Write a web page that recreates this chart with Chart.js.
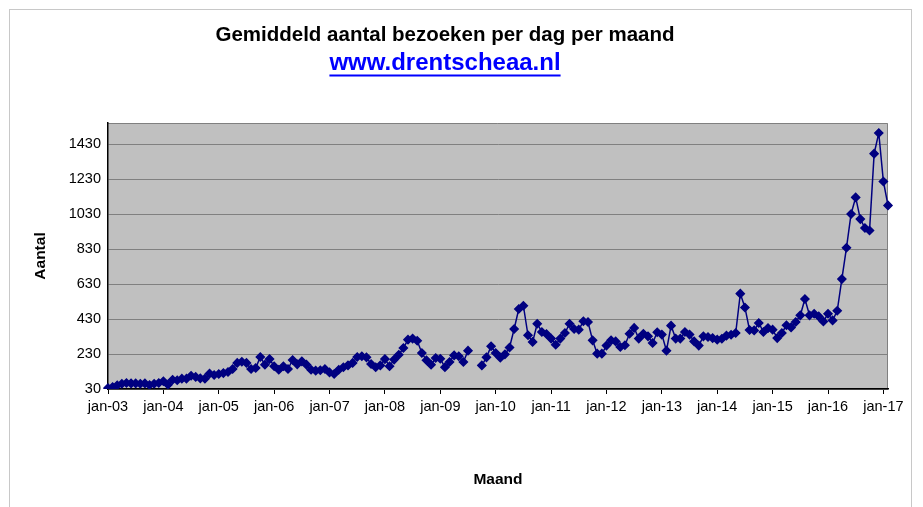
<!doctype html>
<html lang="nl">
<head>
<meta charset="utf-8">
<script src="https://cdn.jsdelivr.net/npm/chart.js"></script>
<style>
  html, body { margin: 0; padding: 0; background: #fff; }
</style>
</head>
<body>
<canvas id="myChart" width="923" height="507"></canvas>

<script>
  // data (monthly averages, jan-03 .. feb-17)
  const monthNames = ['jan', 'feb', 'mrt', 'apr', 'mei', 'jun', 'jul', 'aug', 'sep', 'okt', 'nov', 'dec'];
  const years = ['03', '04', '05', '06', '07', '08', '09', '10', '11', '12', '13', '14', '15', '16', '17'];
  const visits = [
    35, 41, 51, 60, 64, 62, 62, 60, 62, 53, 60, 64,
    74, 55, 83, 80, 89, 89, 106, 99, 91, 89, 118, 110,
    116, 121, 127, 144, 179, 186, 179, 144, 150, 213, 169, 201,
    160, 140, 160, 144, 196, 171, 188, 169, 140, 135, 137, 144,
    125, 116, 140, 154, 165, 179, 213, 217, 211, 173, 154, 165,
    201, 160, 198, 226, 264, 312, 318, 306, 236, 194, 169, 207,
    203, 154, 184, 222, 217, 184, 249, null, null, 165, 211, 274,
    236, 209, 228, 267, 373, 487, 506, 337, 299, 403, 356, 344,
    318, 283, 318, 350, 403, 373, 369, 417, 413, 308, 232, 232,
    278, 308, 302, 270, 280, 346, 379, 318, 346, 331, 293, 354,
    341, 249, 392, 318, 318, 356, 341, 302, 278, 331, 327, 321,
    312, 317, 335, 340, 350, 575, 496, 367, 365, 407, 356, 378,
    369, 321, 350, 394, 382, 413, 451, 544, 451, 460, 445, 416,
    460, 422, 477, 658, 837, 1030, 1125, 1001, 950, 936, 1375, 1493,
    1216, 1079
  ];
  const yTicks = [30, 230, 430, 630, 830, 1030, 1230, 1430];
  const chartTitle = 'Gemiddeld aantal bezoeken per dag per maand';
  const siteUrl = 'www.drentscheaa.nl';

  const labels = [];
  for (y = 0; y < years.length; y++) {
    for (m = 0; m < 12; m++) {
      if (labels.length < visits.length) {
        labels.push(monthNames[m] + '-' + years[y]);
      }
    }
  }

  const fontFam = '"Liberation Sans", Arial, sans-serif';
  const urlSize = 24;

  // grey page frame, silver plot area, grey top/right border
  const backdrop = {
    id: 'backdrop',
    beforeDraw(chart) {
      const ctx = chart.ctx;
      const a = chart.chartArea;
      ctx.save();
      ctx.strokeStyle = '#c8c8c8';
      ctx.lineWidth = 1;
      ctx.strokeRect(9.5, 9.5, 902, 600);
      ctx.fillStyle = '#c0c0c0';
      ctx.fillRect(a.left, a.top, a.right - a.left, a.bottom - a.top);
      ctx.strokeStyle = '#808080';
      ctx.beginPath();
      ctx.moveTo(a.left, a.top + 0.5);
      ctx.lineTo(a.right - 0.5, a.top + 0.5);
      ctx.lineTo(a.right - 0.5, a.bottom);
      ctx.stroke();
      ctx.restore();
    }
  };

  // underline the site address like a link
  const underline = {
    id: 'underline',
    afterDraw(chart) {
      const box = chart.boxes.find(b => b.options && b.options.text === siteUrl);
      if (!box) return;
      const ctx = chart.ctx;
      ctx.save();
      ctx.font = 'bold ' + urlSize + 'px ' + fontFam;
      const w = ctx.measureText(siteUrl).width;
      const cx = (box.left + box.right) / 2;
      const mid = box.top + 1 + urlSize * 1.2 / 2;
      ctx.fillStyle = '#0000ff';
      ctx.fillRect(cx - w / 2, mid + 11.5, w, 2);
      ctx.restore();
    }
  };

  var canvas = document.getElementById('myChart');
  var setup = {
    type: 'line',
    data: {
      labels: labels,
      datasets: [{
        label: 'Aantal',
        data: visits,
        borderColor: '#000080',
        backgroundColor: '#000080',
        borderWidth: 1.5,
        pointStyle: 'rectRot',
        pointRadius: 4,
        pointHoverRadius: 4,
        tension: 0,
        spanGaps: false
      }]
    },
    options: {
      responsive: false,
      animation: false,
      layout: {
        padding: { left: 2, right: 35, top: 0, bottom: 0 }
      },
      plugins: {
        legend: { display: false },
        tooltip: { enabled: false },
        title: {
          display: true,
          text: chartTitle,
          color: '#000',
          font: { family: fontFam, size: 20.5, weight: 'bold' },
          padding: { top: 23, bottom: 0 }
        },
        subtitle: {
          display: true,
          text: siteUrl,
          color: '#0000ff',
          font: { family: fontFam, size: urlSize, weight: 'bold' },
          padding: { top: 1, bottom: 45.6 }
        }
      },
      scales: {
        x: {
          type: 'category',
          offset: false,
          afterFit(scale) { scale.height = 118; },
          grid: {
            drawOnChartArea: false,
            drawTicks: true,
            tickLength: 5,
            color: '#000'
          },
          border: { display: true, color: '#000', width: 1.5 },
          ticks: {
            autoSkip: false,
            maxRotation: 0,
            minRotation: 0,
            padding: 4,
            color: '#000',
            font: { family: fontFam, size: 14.5 },
            callback: function(val, idx) {
              return idx % 12 === 0 ? labels[idx] : null;
            }
          },
          title: {
            display: true,
            text: 'Maand',
            color: '#000',
            font: { family: fontFam, size: 15.5, weight: 'bold' },
            padding: { top: 0, bottom: 18 }
          }
        },
        y: {
          min: 30,
          max: 1550,
          afterFit(scale) { scale.width = 106; },
          afterBuildTicks(scale) {
            scale.ticks = yTicks.map(v => ({ value: v }));
          },
          grid: {
            color: '#808080',
            lineWidth: 1,
            drawTicks: false
          },
          border: { display: true, color: '#000', width: 1.5 },
          ticks: {
            padding: 7,
            color: '#000',
            font: { family: fontFam, size: 14.5 },
            callback: function(val) { return String(val); }
          },
          title: {
            display: true,
            text: 'Aantal',
            color: '#000',
            font: { family: fontFam, size: 15.5, weight: 'bold' },
            padding: { top: 29, bottom: 0 }
          }
        }
      }
    },
    plugins: [backdrop, underline]
  };
  chart = new Chart(canvas, setup);
</script>
</body>
</html>
